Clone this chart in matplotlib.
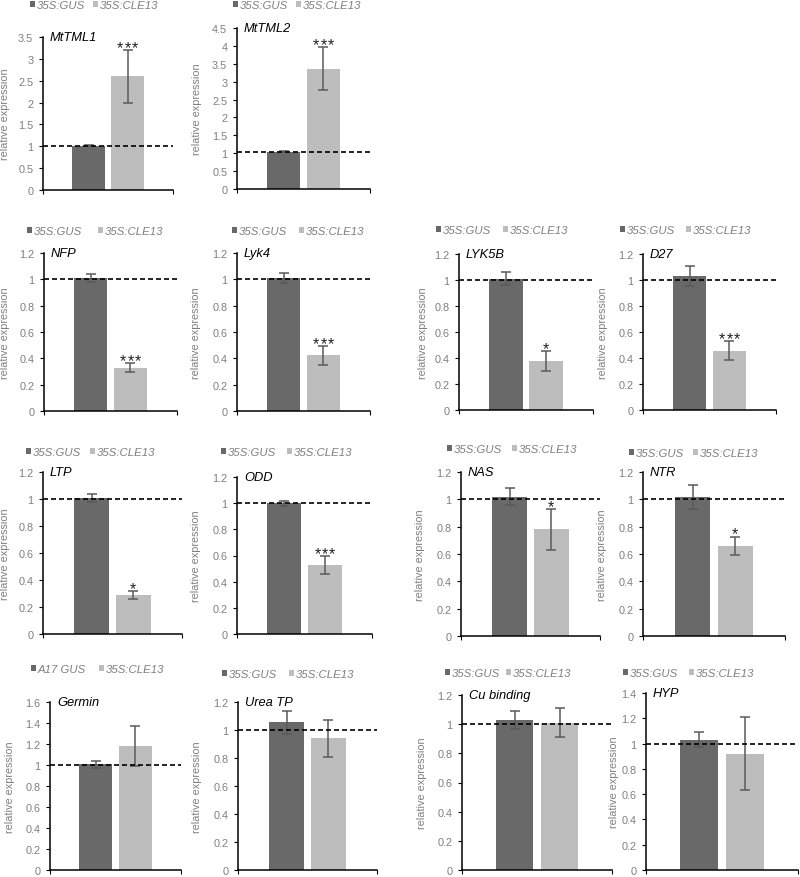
import matplotlib
matplotlib.use("Agg")
import matplotlib.pyplot as plt
from matplotlib.patches import Patch
from matplotlib.transforms import blended_transform_factory

plt.rcParams["font.family"] = ["Liberation Sans", "DejaVu Sans"]

W, H = 800, 878

# ---- data ---------------------------------------------------------------
genes = ["MtTML1", "MtTML2", "NFP", "Lyk4", "LYK5B", "D27", "LTP", "ODD",
         "NAS", "NTR", "Germin", "Urea TP", "Cu binding", "HYP"]
gus_mean = [1.01, 1.04, 1.01, 1.01, 1.01, 1.03, 1.01, 1.00,
            1.02, 1.02, 1.005, 1.055, 1.03, 1.03]
gus_err = [0.01, 0.01, 0.03, 0.04, 0.05, 0.075, 0.03, 0.02,
           0.06, 0.088, 0.03, 0.083, 0.06, 0.06]
cle_mean = [2.60, 3.36, 0.33, 0.425, 0.378, 0.456, 0.287, 0.527,
            0.78, 0.662, 1.18, 0.94, 1.01, 0.92]
cle_err = [0.61, 0.60, 0.037, 0.072, 0.075, 0.075, 0.028, 0.067,
           0.15, 0.066, 0.193, 0.134, 0.10, 0.29]
stars = ["***", "***", "***", "***", "*", "***", "*", "***",
         "*", "*", "", "", "", ""]
ymax = [3.5, 4.5, 1.2, 1.2, 1.2, 1.2, 1.2, 1.2, 1.2, 1.2, 1.6, 1.2, 1.2, 1.4]
ystep = [0.5, 0.5, 0.2, 0.2, 0.2, 0.2, 0.2, 0.2, 0.2, 0.2, 0.2, 0.2, 0.2, 0.2]
ref_level = [1.0, 1.03, 1.0, 1.0, 1.0, 1.0, 1.0, 1.0, 1.0, 1.0, 1.0, 1.0, 1.0, 1.0]
ctrl_label = ["35S:GUS"] * 10 + ["A17 GUS", "35S:GUS", "35S:GUS", "35S:GUS"]
trt_label = "35S:CLE13"

# ---- layout (pixels): left, right, top tick, zero line -------------------
boxes = [(43, 173, 38, 191), (237, 370, 29, 190),
         (44, 177, 254, 412), (237, 370, 254, 412),
         (459, 593, 255, 411), (643, 776, 255, 411),
         (43, 182, 473, 635), (237, 372, 478, 635),
         (461, 600, 473, 637), (643, 785, 473, 637),
         (50, 181, 703, 871), (238, 377, 703, 871),
         (462, 612, 696, 871), (646, 798, 694, 871)]
legend_pos = [(30, 6), (233, 6), (27, 232), (232, 232), (436, 231), (620, 231),
              (26, 453), (221, 453), (447, 450), (629, 454),
              (31, 670), (222, 675), (445, 674), (623, 674)]
legend_gap = [8, 8, 16, 12, 12, 11, 9, 11, 10, 9, 13, 12, 6, 11]
label_off = [33, 35, 34, 36, 31, 35, 33, 36, 36, 36, 35, 36, 35, 27]

DARK = "#696969"
LIGHT = "#bdbdbd"
GREY = "#7f7f7f"
LEG_PT = 8.2

fig = plt.figure(figsize=(W / 100, H / 100), dpi=100)

for i, g in enumerate(genes):
    l, r, t, b = boxes[i]
    ax = fig.add_axes([l / W, 1 - b / H, (r - l) / W, (b - t) / H])
    wpx = r - l

    ax.bar(0.35, gus_mean[i], width=0.25, color=DARK, zorder=2)
    ax.bar(0.65, cle_mean[i], width=0.25, color=LIGHT, zorder=2)
    ax.errorbar([0.35, 0.65], [gus_mean[i], cle_mean[i]],
                yerr=[gus_err[i], cle_err[i]], fmt="none", ecolor="#5a5a5a",
                elinewidth=1.1, capsize=3.5, capthick=1.1, zorder=3)
    ax.axhline(ref_level[i], color="black", lw=1.2, dashes=(3, 1.8), zorder=4)

    # significance stars, one glyph each so they sit a little apart
    k = len(stars[i])
    for j in range(k):
        ax.annotate("*", (0.65, cle_mean[i] + cle_err[i]),
                    xytext=((j - (k - 1) / 2) * 5.2, -1.5),
                    textcoords="offset points", ha="center", va="baseline",
                    fontsize=11.5, color="#222222", zorder=5)

    ax.set_xlim(0, 1)
    ax.set_ylim(0, ymax[i])
    n = int(round(ymax[i] / ystep[i]))
    yt = [k * ystep[i] for k in range(n + 1)]
    ax.set_yticks(yt)
    ax.set_yticklabels([f"{v:g}" for v in yt])
    ax.set_xticks([0, 1])
    ax.set_xticklabels([])
    ax.tick_params(axis="y", length=3, width=0.8, colors="black",
                   labelcolor=GREY, labelsize=7.8, pad=4)
    ax.tick_params(axis="x", length=3, width=0.8, direction="out")
    for s in ("top", "right"):
        ax.spines[s].set_visible(False)
    for s in ("left", "bottom"):
        ax.spines[s].set_linewidth(1.1)
    ax.patch.set_alpha(0)

    ax.set_ylabel("relative expression", fontsize=7.8, color=GREY)
    ax.yaxis.set_label_coords(-label_off[i] / wpx, 0.5)

    ax.text(7 / wpx, ymax[i], g, fontsize=9.3, style="italic", color="black",
            ha="left", va="center",
            transform=blended_transform_factory(ax.transAxes, ax.transData))

    lx, ly = legend_pos[i]
    handles = [Patch(facecolor=DARK, edgecolor="none"),
               Patch(facecolor=LIGHT, edgecolor="none")]
    em = LEG_PT * 100 / 72
    fig.legend(handles, [ctrl_label[i], trt_label], loc="center left",
               bbox_to_anchor=(lx / W, 1 - ly / H), ncol=2, frameon=False,
               handlelength=0.4, handleheight=0.4, handletextpad=0.2,
               columnspacing=legend_gap[i] / em, borderpad=0, borderaxespad=0,
               prop={"style": "italic", "size": LEG_PT}, labelcolor=GREY)

fig.savefig("out.png", dpi=100)
